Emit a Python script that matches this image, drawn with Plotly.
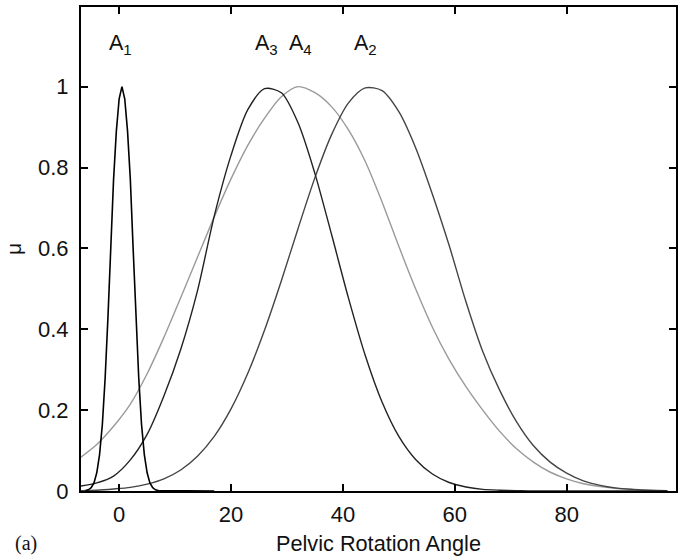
import plotly.graph_objects as go

# Shared sample angles for the three wide membership functions
XS = [-7, -4, -1, 2, 5, 8, 11, 14, 17, 20, 23, 26, 29, 32, 35, 38, 41, 44, 47, 50,
      53, 56, 59, 62, 65, 68, 71, 74, 77, 80, 83, 86, 89, 92, 95, 98]

A2_Y = [0.001, 0.002, 0.005, 0.009, 0.017, 0.03, 0.052, 0.086, 0.135, 0.203, 0.291, 0.398,
        0.52, 0.65, 0.775, 0.882, 0.96, 0.997, 0.99, 0.938, 0.849, 0.734, 0.607, 0.468,
        0.345, 0.25, 0.172, 0.113, 0.072, 0.044, 0.025, 0.014, 0.007, 0.004, 0.002, 0.001]

A3_Y = [0.012, 0.02, 0.037, 0.077, 0.14, 0.235, 0.35, 0.495, 0.68, 0.83, 0.943, 0.995,
        0.985, 0.91, 0.785, 0.633, 0.477, 0.335, 0.22, 0.135, 0.078, 0.042, 0.021, 0.01,
        0.004, 0.002, 0.001, 0, 0, 0, 0, 0, 0, 0, 0, 0]

A4_Y = [0.082, 0.115, 0.16, 0.215, 0.29, 0.38, 0.478, 0.578, 0.678, 0.772, 0.855, 0.922,
        0.975, 1.0, 0.985, 0.95, 0.893, 0.815, 0.715, 0.605, 0.50, 0.405, 0.325, 0.258,
        0.2, 0.148, 0.105, 0.072, 0.047, 0.03, 0.018, 0.011, 0.006, 0.003, 0.001, 0.0]

# Narrow membership function A1
A1_X = [-6, -5.5, -5, -4.5, -4, -3.5, -3, -2.5, -2, -1.5, -1, -0.5, 0, 0.5, 1, 1.5, 2,
        2.5, 3, 3.5, 4, 4.5, 5, 5.5, 6, 6.5, 7, 17]
A1_Y = [0.001, 0.003, 0.008, 0.02, 0.045, 0.09, 0.165, 0.28, 0.43, 0.60, 0.77, 0.89, 0.97,
        1.0, 0.97, 0.89, 0.77, 0.60, 0.43, 0.28, 0.165, 0.09, 0.045, 0.02, 0.008, 0.003,
        0.001, 0.0]

LABELS = ["A<sub>1</sub>", "A<sub>3</sub>", "A<sub>4</sub>", "A<sub>2</sub>"]
LABEL_X = [0.2, 26.4, 32.4, 44.1]
LABEL_Y = [1.104, 1.104, 1.104, 1.104]

X_TICKS = [0, 20, 40, 60, 80]
Y_TICKS = [0, 0.2, 0.4, 0.6, 0.8, 1]
Y_TICK_TEXT = ["0", "0.2", "0.4", "0.6", "0.8", "1"]

FONT = "Liberation Sans, Arial, Helvetica, sans-serif"
TXT = "#111111"

fig = go.Figure()
fig.add_trace(go.Scatter(x=XS, y=A4_Y, mode="lines", name="A4",
                         line=dict(color="#9a9a9a", width=1.4, shape="spline", smoothing=0.8)))
fig.add_trace(go.Scatter(x=XS, y=A2_Y, mode="lines", name="A2",
                         line=dict(color="#444444", width=1.4, shape="spline", smoothing=0.8)))
fig.add_trace(go.Scatter(x=XS, y=A3_Y, mode="lines", name="A3",
                         line=dict(color="#222222", width=1.4, shape="spline", smoothing=0.8)))
fig.add_trace(go.Scatter(x=A1_X, y=A1_Y, mode="lines", name="A1",
                         line=dict(color="#000000", width=1.6)))

for t, lx, ly in zip(LABELS, LABEL_X, LABEL_Y):
    fig.add_annotation(x=lx, y=ly, text=t, showarrow=False, xanchor="center", yanchor="middle",
                       font=dict(family=FONT, size=21.5, color=TXT))

fig.add_annotation(xref="paper", yref="paper", x=-0.1144, y=-0.108, text="(a)", showarrow=False,
                   xanchor="left", yanchor="middle",
                   font=dict(family="Liberation Serif, Times New Roman, serif", size=20, color=TXT))

axis_common = dict(showline=True, linecolor="black", linewidth=2, mirror="ticks",
                   ticks="inside", ticklen=7, tickwidth=2, tickcolor="black",
                   showgrid=False, zeroline=False,
                   tickfont=dict(family=FONT, size=22, color=TXT))

fig.update_xaxes(range=[-6.82, 99.55], tickvals=X_TICKS, ticklabelstandoff=3,
                 title=dict(text="Pelvic Rotation Angle", font=dict(family=FONT, size=21.7, color=TXT),
                            standoff=9),
                 **axis_common)
fig.update_yaxes(range=[0, 1.197], tickvals=Y_TICKS, ticktext=Y_TICK_TEXT, ticklabelstandoff=6,
                 title=dict(text="μ", font=dict(family=FONT, size=21, color=TXT), standoff=11),
                 **axis_common)

fig.update_layout(width=683, height=557, margin=dict(l=81, r=5, t=7, b=64),
                  paper_bgcolor="white", plot_bgcolor="white", showlegend=False)

fig.write_html("out.html")
